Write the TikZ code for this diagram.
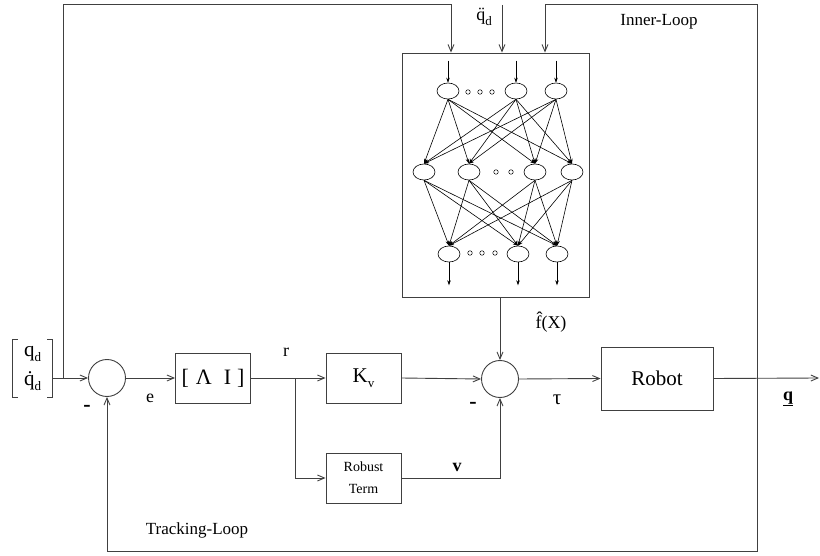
\documentclass[tikz,border=0pt]{standalone}
\usepackage{fontspec}
\setmainfont{Liberation Serif}
\usepackage{tikz}
\usetikzlibrary{arrows.meta,positioning,calc,shapes.geometric}
\definecolor{Wire}{HTML}{404040}
\newcommand{\lowsub}[1]{\raisebox{-5pt}{\fontsize{13}{13}\selectfont #1}}
\begin{document}
\begin{tikzpicture}[x=1pt,y=-1pt,
  wire/.style={line width=0.9pt,Wire},
  arrow/.style={wire,-{Straight Barb[length=7pt,width=6pt]}},
  blk/.style={draw=Wire,line width=0.9pt,minimum width=75pt,minimum height=50pt,
    inner sep=0pt,align=center,font=\fontsize{21}{24}\selectfont},
  sumnode/.style={circle,draw=Wire,line width=0.9pt,minimum size=37pt,inner sep=0pt},
  neuron/.style={ellipse,draw,line width=0.6pt,minimum width=22pt,minimum height=16pt,inner sep=0pt},
  gap/.style={circle,draw,line width=0.5pt,minimum size=4.5pt,inner sep=0pt},
  synapse/.style={-{Stealth[length=5pt,width=3.5pt]},line width=0.6pt},
  lbl/.style={inner sep=0pt,font=\fontsize{18}{20}\selectfont}]
  \useasboundingbox (0,0) rectangle (820,556);
  \node[minimum width=39pt,minimum height=57pt,inner sep=0pt,align=center,
    font=\fontsize{21}{29}\selectfont] (qd) at (32.5,368.5) {q\lowsub{d}\\\.{q}\lowsub{d}};
  \draw[wire] ([xshift=5pt]qd.north west) -- (qd.north west) -- (qd.south west) -- ([xshift=5pt]qd.south west);
  \draw[wire] ([xshift=-5pt]qd.north east) -- (qd.north east) -- (qd.south east) -- ([xshift=-5pt]qd.south east);
  \coordinate (split) at (63,378);
  \node[sumnode] (s1) at (107,378) {};
  \node[blk,font=\fontsize{22}{24}\selectfont] (gain) at (213,378) {[\hspace{7pt}Λ\hspace{12pt}I\hspace{6pt}]};
  \coordinate (rsplit) at (295,378);
  \node[blk] (kv) at (363.5,378) {K\lowsub{v}};
  \node[sumnode] (s2) at (500,379) {};
  \node[blk,minimum width=112pt,minimum height=63pt] (robot) at (657,378.5) {Robot};
  \coordinate (tap) at (757,378);
  \coordinate (qout) at (819,378);
  \node[blk,font=\fontsize{14}{22}\selectfont] (robust) at (363.5,478) {Robust\\Term};
  \node[draw=Wire,line width=0.9pt,minimum width=187pt,minimum height=244pt,inner sep=0pt] (nn) at (495.5,175) {};
  \coordinate (topl) at (451,4);
  \coordinate (topr) at (545,4);
  \coordinate (qdd) at (502,5);
  \coordinate (botr) at (757,551);

  \draw[wire] (qd.east |- split) -- (split);
  \draw[arrow] (split) -- (s1.west);
  \draw[arrow] (s1.east) -- (gain.west);
  \draw[wire] (gain.east) -- (rsplit);
  \draw[arrow] (rsplit) -- (kv.west);
  \draw[arrow] (kv.east) -- (s2.west);
  \draw[arrow] (s2.east) -- (robot.west);
  \draw[arrow] (robot.east) -- (qout);
  \draw[arrow] (rsplit) |- (robust.west);
  \draw[arrow] (robust.east) -| (s2.south);
  \draw[arrow] (s2 |- nn.south) -- (s2.north);
  \draw[arrow] (split) |- (topl) -- (topl |- nn.north);
  \draw[arrow] (qdd) -- (qdd |- nn.north);
  \draw[arrow] (tap) |- (topr) -- (topr |- nn.north);
  \draw[arrow] (tap) -- (botr) -| (s1.south);

  \node[lbl,font=\fontsize{22}{22}\selectfont\bfseries] (minus1) at (87,408) {-};
  \node[lbl] (elbl) at (150,398) {e};
  \node[lbl] (rlbl) at (286,352) {r};
  \node[lbl,font=\fontsize{22}{22}\selectfont\bfseries] (minus2) at (473,405) {-};
  \node[lbl,font=\fontsize{21}{22}\selectfont] (taulbl) at (557,400) {τ};
  \node[lbl] (vlbl) at (457,467) {\textbf{v}};
  \node[lbl] (qlbl) at (788,399) {\underline{\textbf{q}}};
  \node[lbl] (flbl) at (551,322) {\^{f}(X)};
  \node[lbl] (qddlbl) at (484,17) {\"{q}\lowsub{d}};
  \node[lbl,font=\fontsize{17}{20}\selectfont] (inner) at (659,22) {Inner-Loop};
  \node[lbl,font=\fontsize{17}{20}\selectfont] (track) at (197,530) {Tracking-Loop};

  \foreach \n/\x in {1/448,2/516,3/556} \node[neuron] (a\n) at (\x,91) {};
  \foreach \n/\x in {1/424,2/469,3/535,4/572} \node[neuron] (b\n) at (\x,172) {};
  \foreach \n/\x in {1/449,2/518,3/557} \node[neuron] (c\n) at (\x,254) {};
  \foreach \x in {468,480,492} \node[gap] (ga\x) at (\x,92) {};
  \foreach \x in {496,511} \node[gap] (gb\x) at (\x,172) {};
  \foreach \x in {470,482,495} \node[gap] (gc\x) at (\x,253) {};
  \foreach \n in {1,2,3} \draw[synapse] ([yshift=22pt]a\n.north) -- (a\n.north);
  \foreach \n in {1,2,3} \draw[synapse] (c\n.south) -- ([yshift=-23pt]c\n.south);
  \foreach \i in {1,2,3} \foreach \j in {1,...,4} \draw[synapse] (a\i.south) -- (b\j.north);
  \foreach \i in {1,...,4} \foreach \j in {1,2,3} \draw[synapse] (b\i.south) -- (c\j.north);
\end{tikzpicture}
\end{document}
